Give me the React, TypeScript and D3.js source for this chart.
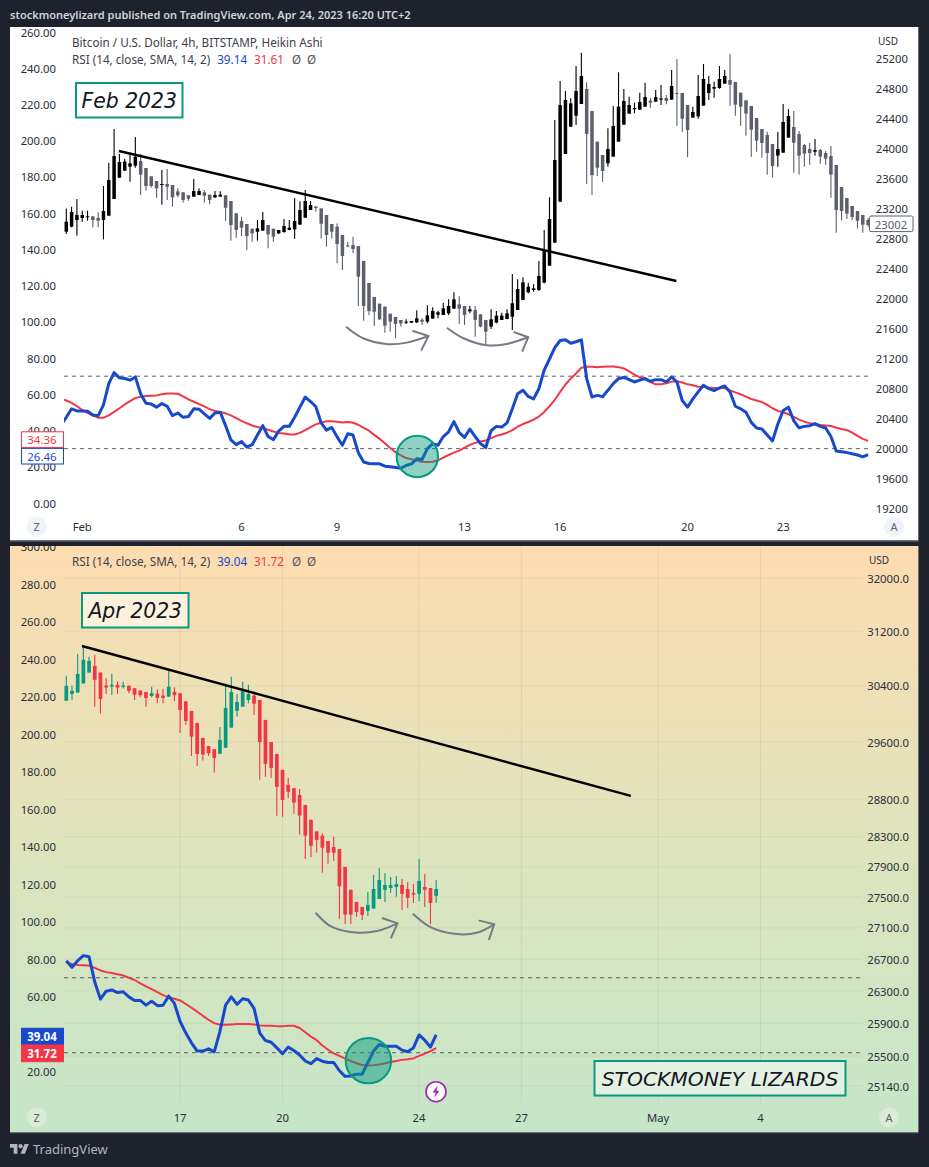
import React from 'react';
import * as d3 from 'd3';

// --- February panel (candle numbers run 1..152, 4h Heikin Ashi, values in USD) ---
const febOpen = [22884,22951,23040,23067,23080,23089,23067,23040,23098,23320,
  23604,23698,23751,23764,23827,23733,23622,23560,23511,23520,
  23507,23422,23409,23369,23351,23373,23409,23378,23342,23351,
  23369,23293,23129,23027,22987,22924,22884,22898,22973,22924,
  22862,22880,22907,22915,22978,23071,23173,23218,23195,23107,
  22987,22951,22840,22702,22707,22694,22494,22200,22014,21925,
  21885,21791,21747,21707,21671,21671,21676,21711,21685,21725,
  21778,21774,21796,21858,21916,21894,21822,21840,21782,21707,
  21618,21671,21707,21720,21751,21840,21974,22076,22107,22107,
  22205,22431,22738,23285,23920,24284,24431,24587,24787,24493,
  24085,23907,23796,23885,24085,24311,24458,24516,24511,24551,
  24631,24618,24645,24667,24645,24733,24733,24573,24405,24422,
  24565,24733,24791,24800,24858,24907,24880,24738,24636,24560,
  24400,24253,24173,24053,23898,23938,24138,24280,24187,24040,
  23987,23951,23973,23933,23893,23773,23480,23333,23227,23160,
  23107,23040];
const febClose = [23018,23147,23107,23107,23089,23040,23031,23160,23573,23893,
  23813,23818,23795,23884,23644,23493,23493,23462,23520,23484,
  23342,23369,23307,23324,23426,23426,23364,23307,23373,23378,
  23204,22973,22907,22938,22827,22862,22929,23040,22849,22818,
  22907,22960,22938,23027,23173,23293,23240,23200,22991,22840,
  22884,22720,22560,22694,22653,22285,21894,21827,21818,21716,
  21631,21685,21654,21662,21685,21694,21729,21685,21769,21827,
  21809,21862,21894,21982,21858,21774,21849,21707,21618,21551,
  21716,21765,21765,21796,21929,22120,22209,22151,22129,22294,
  22640,23053,23840,24573,24640,24596,24760,24960,24187,23640,
  23738,23693,23987,24293,24551,24627,24573,24533,24613,24680,
  24604,24680,24662,24627,24827,24724,24391,24240,24480,24693,
  24920,24853,24813,24920,24960,24844,24578,24551,24458,24245,
  24098,24067,23933,23760,23987,24347,24427,24071,23898,23924,
  23933,23973,23885,23858,23645,23173,23160,23125,23080,23031,
  22978,22973];
const febHigh = [23195,23218,23320,23164,23164,23089,23142,23493,23804,24253,
  23920,23858,23938,24147,23920,23733,23622,23560,23707,23720,
  23507,23462,23409,23369,23587,23462,23440,23378,23426,23422,
  23369,23293,23129,23084,22987,22924,23040,23147,22973,22924,
  22907,23053,23040,23329,23289,23440,23293,23227,23195,23107,
  22987,22995,22840,22751,22818,22694,22494,22200,22014,21925,
  21885,21791,21747,21707,21716,21694,21836,21729,21902,21876,
  21831,21938,21982,22076,22022,21894,21894,21894,21782,21707,
  21849,21827,21805,21849,22320,22249,22276,22205,22182,22494,
  22907,23342,24373,24893,24760,24662,25093,25271,24876,24493,
  24085,23907,24262,24560,25009,24787,24684,24604,24738,24871,
  24671,24773,24840,24707,25040,25187,24733,24573,24551,24973,
  25120,24960,24884,25093,25040,25253,24880,24738,24636,24560,
  24400,24253,24218,24053,24213,24587,24520,24493,24227,24053,
  24067,24120,23987,23960,24027,23773,23480,23333,23227,23160,
  23107,23062];
const febLow = [22853,22942,22831,23018,23031,22942,22942,22782,23098,23320,
  23604,23693,23551,23738,23373,23431,23475,23338,23244,23307,
  23218,23342,23275,23298,23351,23373,23275,23249,23333,23351,
  23031,22764,22804,22827,22640,22751,22764,22898,22662,22751,
  22853,22871,22907,22791,22978,23071,23173,23151,22795,22684,
  22795,22462,22373,22676,22596,21894,21698,21774,21627,21707,
  21538,21551,21462,21618,21654,21667,21667,21640,21662,21725,
  21729,21774,21774,21858,21654,21640,21796,21485,21609,21374,
  21587,21662,21707,21716,21574,21840,21974,22062,22085,22098,
  22196,22431,22738,23285,23920,24284,24307,24587,23520,23373,
  23627,23551,23751,23885,24085,24311,24458,24462,24507,24551,
  24538,24618,24573,24582,24645,24298,24218,23876,24405,24391,
  24565,24640,24671,24791,24858,24565,24431,24298,24165,23885,
  23951,23871,23645,23605,23751,23938,24138,23671,23645,23751,
  23778,23898,23791,23778,23338,22871,23036,23053,23040,22925,
  22871,22951];
// RSI and its SMA start one candle earlier (index 0), the pane clips that point
const febRsi = [43.0,47.3,52.0,50.8,50.8,50.7,48.6,48.2,54.2,65.9,72.0,69.1,68.7,67.8,69.6,60.3,
  55.1,54.6,52.9,54.9,53.4,48.2,49.7,47.3,47.7,52.0,51.8,49.2,46.7,49.7,50.1,42.7,
  34.8,32.2,33.9,30.8,32.2,37.5,42.7,36.7,35.0,39.7,42.3,42.3,47.3,52.9,58.5,56.0,
  53.1,44.2,40.2,41.7,36.5,31.9,38.2,37.5,27.8,22.6,21.8,21.6,21.6,20.3,20.0,19.6,
  19.2,20.7,21.6,24.4,24.0,30.0,32.8,31.9,36.7,39.3,44.9,38.9,
  36.2,40.8,36.7,32.8,30.6,39.9,42.3,41.9,44.2,52.0,60.3,62.2,58.8,57.5,63.1,73.4,
  79.5,85.8,89.7,90.1,88.2,89.0,90.1,68.7,58.5,59.4,58.7,62.2,65.9,68.7,69.3,68.1,
  66.8,67.8,68.7,67.2,68.1,68.1,66.8,69.6,66.8,56.6,52.9,57.5,61.3,65.0,63.1,62.0,
  63.5,64.6,61.3,53.4,52.0,50.1,44.5,41.4,40.8,37.5,34.3,43.6,51.0,52.9,45.4,41.5,
  42.3,42.7,43.8,42.3,41.4,36.7,28.7,28.3,27.8,27.2,26.5,25.5,26.7];
const febRsiMa = [57.5,56.6,55.3,53.4,51.4,49.7,48.2,47.1,47.1,48.4,50.3,52.3,54.4,56.2,57.9,58.7,
  59.0,59.2,59.4,60.0,60.5,60.5,60.3,58.8,57.2,55.9,54.6,53.3,51.8,50.8,50.3,49.5,
  48.4,46.9,45.3,44.0,42.8,41.9,41.4,40.4,39.5,38.7,38.4,37.8,37.8,38.7,40.2,41.9,
  43.4,44.3,45.1,45.1,44.9,44.5,44.7,44.3,43.2,41.5,39.9,37.6,35.4,33.0,30.4,28.1,
  26.3,24.8,24.1,23.5,22.8,22.6,22.8,23.5,25.0,26.5,27.8,28.9,
  30.6,32.1,33.2,33.9,34.5,35.8,37.1,37.8,38.8,40.2,42.1,43.6,44.7,46.0,47.7,50.3,
  53.4,57.0,61.3,65.4,68.7,71.5,74.7,75.2,75.2,75.0,75.2,75.4,75.4,75.0,74.3,72.6,
  70.9,69.4,68.3,66.8,65.5,65.5,66.1,67.0,67.2,66.5,65.5,65.0,64.2,64.1,63.7,63.5,
  63.5,63.3,62.2,61.1,60.0,58.7,57.4,56.6,55.7,54.2,52.3,50.8,50.1,49.0,47.5,46.0,
  44.9,44.1,43.6,43.0,42.8,42.5,41.5,40.8,40.2,38.9,37.1,35.4,34.3];
const febLeftTicks = [260,240,220,200,180,160,140,120,100,80,60,40,20,0];
const febPriceTicks = [25200,24800,24400,24000,23600,23200,22800,22400,22000,21600,21200,20800,20400,20000,19600,19200];
const febDayLabels = ['Feb','6','9','13','16','20','23'];
const febDayCandles = [4,34,52,76,94,118,136];
// annotations, as [candle number, USD]
const febTrend = [[10.9,23960],[115.9,22227]];
const febArcs = [
  [[53.8,21610],[56.9,21463],[61.3,21387],[65.1,21405],[69.2,21494]],
  [[72.8,21597],[75.8,21463],[80.2,21370],[83.9,21387],[88,21477]],
];
const febArrowHeads = [
  [[66.3,21561],[69.2,21494],[67.9,21308]],
  [[85.4,21543],[88,21477],[86.9,21294]],
];

// --- April panel (candle numbers run 1..66) ---
const aprOpen = [30189,30286,30305,30436,30595,30692,30595,30407,30393,30417,
  30388,30402,30368,30334,30315,30257,30291,30262,30247,30315,
  30296,30179,30042,29872,29659,29545,29502,29438,29521,29805,
  30042,30103,30199,30262,30199,29914,29602,29434,29213,29006,
  28960,28867,28731,28528,28371,28314,28242,28161,28134,27897,
  27595,27437,27372,27320,27350,27476,27595,27619,27632,27659,
  27606,27555,27542,27632,27619,27516];
const aprClose = [30402,30330,30576,30779,30765,30489,30214,30378,30417,30378,
  30407,30330,30276,30267,30228,30296,30228,30228,30388,30267,
  30056,29900,29678,29434,29425,29443,29379,29630,30085,30315,
  30170,30330,30286,30146,29602,29296,29241,28978,28798,28909,
  28762,28586,28314,28179,28258,28152,28085,28085,27641,27272,
  27272,27307,27268,27398,27606,27725,27659,27659,27672,27542,
  27490,27533,27712,27595,27424,27606];
const aprHigh = [30547,30402,30866,30982,30827,30852,30595,30513,30576,30465,
  30460,30412,30368,30344,30315,30388,30349,30359,30634,30383,
  30296,30179,30042,29872,29659,29545,29502,29815,30431,30533,
  30286,30460,30417,30320,30199,29914,29602,29434,29213,29103,
  28960,28947,28731,28528,28371,28346,28242,28301,28134,27897,
  27595,27437,27372,27569,27791,27883,27817,27764,27778,27738,
  27698,27672,28002,27804,27619,27725];
const aprLow = [30189,30199,30305,30436,30595,30103,30004,30286,30272,30286,
  30364,30296,30199,30238,30103,30238,30151,30151,30247,30179,
  29730,29843,29406,29268,29342,29406,29176,29438,29521,29805,
  29961,30103,30151,29985,29075,29116,29103,28582,28569,28826,
  28609,28325,28002,28025,28090,27821,27940,27976,27216,27150,
  27150,27242,27203,27255,27350,27476,27437,27555,27503,27333,
  27359,27424,27450,27372,27150,27424];
const aprRsi = [79.1,75.6,79.1,81.8,81.2,67.7,58.6,62.8,63.5,62.1,62.5,59.8,57.9,57.9,55.4,57.5,
  55.1,55.3,60.2,56.3,46.7,40.5,35.3,30.9,30.9,32.1,30.5,41.4,55.4,59.8,55.8,58.8,
  58.1,53.7,40.5,36.5,35.6,32.6,29.5,33.0,31.2,28.8,25.6,24.2,26.9,25.5,24.8,24.8,
  20.4,17.4,17.6,18.6,18.6,24.8,30.9,34.4,33.5,33.5,33.5,31.4,30.5,32.6,39.5,36.7,33.0,39.6];
const aprRsiMa = [78.1,77.4,76.8,76.7,76.5,75.3,73.9,73.0,72.5,71.9,71.2,70.0,68.8,67.0,65.4,63.9,
  62.3,60.7,59.5,58.8,57.9,56.0,54.0,51.9,49.7,47.6,45.8,44.9,44.9,45.1,45.3,45.4,
  45.3,45.1,44.6,44.4,44.4,44.2,44.2,44.4,44.4,43.2,40.9,38.6,36.7,33.9,31.6,29.7,
  28.3,26.9,25.6,24.4,23.5,23.2,23.4,23.7,24.4,25.1,25.6,26.2,26.5,27.0,28.3,29.5,30.9,32.5];
// 40.00 sits fully behind the two value boxes in this pane, so it is left out
const aprLeftTicks = [300,280,260,240,220,200,180,160,140,120,100,80,60,20];
const aprPriceTicks = [32000,31200,30400,29600,28800,28300,27900,27500,27100,26700,26300,25900,25500,25140];
const aprDayLabels = ['17','20','24','27','May','4'];
const aprDayCandles = [21,39,63,81,105,123];
const aprTrend = [[3.76,30983],[100.2,28853]];
const aprArcs = [
  [[44.9,27290],[47.6,27116],[52.3,27038],[55.8,27063],[59.2,27159]],
  [[62,27277],[65.2,27103],[69.6,27021],[73.1,27037],[76.2,27147]],
];
const aprArrowHeads = [
  [[56.6,27225],[59.2,27159],[58.1,26977]],
  [[73.6,27194],[76.2,27147],[75.3,26955]],
];

const rsiBands = [70, 30];

const W = 929;
const H = 1167;
const DARK = '#1e222d';
const BLUE = '#1848cc';
const RED = '#f23645';
const TEAL = '#089981';
const AXIS_TEXT = '#2a2e39';
const FONT = '"Noto Sans", sans-serif';
const NOTE_FONT = '"DejaVu Sans", sans-serif';

const feb = { top: 27, bottom: 540, left: 64, right: 869 };
const apr = { top: 546, bottom: 1132, left: 64, right: 862 };

const febX = d3.scaleLinear().domain([1, 152]).range([66.3, 868.1]);
const febPriceY = d3.scaleLinear().domain([25200, 19200]).range([58, 508]);
const febLeftY = d3.scaleLinear().domain([0, 260]).range([503, 32]);

const aprX = d3.scaleLinear().domain([1, 123]).range([66.3, 760.5]);
const aprPriceY = d3.scaleLog().domain([32000, 25140]).range([578, 1086]);
const aprLeftY = d3.scaleLinear().domain([0, 300]).range([1109, 546.5]);

function Candles({ opens, highs, lows, closes, x, y, up, down, width }: any) {
  return (
    <g>
      {opens.map((o: number, i: number) => {
        const c = closes[i];
        const cx = x(i + 1);
        const color = c >= o ? up : down;
        const top = y(Math.max(o, c));
        const bottom = y(Math.min(o, c));
        return (
          <g key={i}>
            <line x1={cx} x2={cx} y1={y(highs[i])} y2={y(lows[i])} stroke={color} strokeWidth={1.1} />
            <rect x={cx - width / 2} y={top} width={width} height={Math.max(bottom - top, 1)} fill={color} />
          </g>
        );
      })}
    </g>
  );
}

function RsiLines({ rsi, ma, x, y, start, clip }: any) {
  const line = d3.line<number>()
    .x((_, i) => x(i + start))
    .y(d => y(d));
  return (
    <g clipPath={clip}>
      <path d={line(ma) || ''} fill="none" stroke={RED} strokeWidth={2} strokeLinejoin="round" />
      <path d={line(rsi) || ''} fill="none" stroke={BLUE} strokeWidth={3} strokeLinejoin="round" />
    </g>
  );
}

function Note({ x, y, w, h, text, size, fill }: any) {
  return (
    <g>
      <rect x={x} y={y} width={w} height={h} fill={fill} stroke={TEAL} strokeWidth={2} />
      <text x={x + w / 2} y={y + h / 2 + 1} textAnchor="middle" dominantBaseline="central"
        fontFamily={NOTE_FONT} fontStyle="italic" fontSize={size} fill="#131722">{text}</text>
    </g>
  );
}

function Arrows({ arcs, heads, x, y }: any) {
  const arc = d3.line<number[]>().x(d => x(d[0])).y(d => y(d[1])).curve(d3.curveCatmullRom);
  const head = d3.line<number[]>().x(d => x(d[0])).y(d => y(d[1]));
  return (
    <g fill="none" stroke="#787b86" strokeWidth={2} strokeLinecap="round" strokeLinejoin="round">
      {arcs.map((a: number[][], i: number) => <path key={i} d={arc(a) || ''} />)}
      {heads.map((a: number[][], i: number) => <path key={i} d={head(a) || ''} />)}
    </g>
  );
}

function RoundButton({ cx, cy, label, fill }: any) {
  return (
    <g>
      <circle cx={cx} cy={cy} r={10} fill={fill} />
      <text x={cx} y={cy} textAnchor="middle" dominantBaseline="central" fontFamily={FONT} fontSize={11} fill="#5d606b">{label}</text>
    </g>
  );
}

function PriceBox({ y, h, label, color, filled }: any) {
  return (
    <g>
      <rect x={21.5} y={y} width={42} height={h} fill={filled ? color : '#ffffff'} stroke={color} strokeWidth={1} />
      <text x={42} y={y + h / 2} textAnchor="middle" dominantBaseline="central" fontFamily={FONT} fontSize={11.5}
        fontWeight={filled ? 700 : 400} fill={filled ? '#ffffff' : color}>{label}</text>
    </g>
  );
}

function Legend({ x, y, rsi, ma }: any) {
  return (
    <text x={x} y={y} dominantBaseline="central" fontFamily={FONT} fontSize={11.7} fill="#3d404a">
      RSI (14, close, SMA, 14, 2)
      <tspan dx={7} fill={BLUE}>{rsi}</tspan>
      <tspan dx={7} fill={RED}>{ma}</tspan>
      <tspan dx={8} fill="#50535e">Ø</tspan>
      <tspan dx={6} fill="#50535e">Ø</tspan>
    </text>
  );
}

export default function App() {
  const trendLine = (pts: number[][], x: any, y: any) =>
    d3.line<number[]>().x(d => x(d[0])).y(d => y(d[1]))(pts) || '';

  return (
    <svg width={W} height={H} viewBox={`0 0 ${W} ${H}`} style={{ position: 'absolute', left: 0, top: 0, display: 'block' }}>
      <defs>
        <linearGradient id="aprBg" x1="0" y1="0" x2="0" y2="1">
          <stop offset="0" stopColor="#fddcb0" />
          <stop offset="0.5" stopColor="#dfe4bd" />
          <stop offset="1" stopColor="#c5e6c8" />
        </linearGradient>
        <clipPath id="febPane"><rect x={10} y={feb.top} width={908} height={feb.bottom - feb.top} /></clipPath>
        <clipPath id="aprPane"><rect x={10} y={apr.top} width={908} height={apr.bottom - apr.top} /></clipPath>
        <clipPath id="febPlot"><rect x={feb.left} y={feb.top} width={feb.right - feb.left} height={feb.bottom - feb.top} /></clipPath>
        <clipPath id="aprPlot"><rect x={apr.left} y={apr.top} width={apr.right - apr.left} height={apr.bottom - apr.top} /></clipPath>
      </defs>

      <rect width={W} height={H} fill={DARK} />
      <text x={10} y={14.5} dominantBaseline="central" fontFamily={FONT} fontSize={11} fontWeight={600} fill="#d1d4dc">
        stockmoneylizard published on TradingView.com, Apr 24, 2023 16:20 UTC+2
      </text>

      {/* February pane */}
      <rect x={10} y={feb.top} width={908} height={feb.bottom - feb.top} fill="#ffffff" />
      <rect x={10} y={feb.bottom} width={908.5} height={1.6} fill="#6b6e78" />
      <rect x={918} y={feb.top} width={1} height={feb.bottom - feb.top} fill="#6b6e78" />
      <g clipPath="url(#febPane)">
        {febLeftTicks.map(t => (
          <text key={t} x={56} y={febLeftY(t)} textAnchor="end" dominantBaseline="central" fontFamily={FONT} fontSize={11.3} fill={AXIS_TEXT}>{t.toFixed(2)}</text>
        ))}
      </g>
      {febPriceTicks.map(t => (
        <text key={t} x={908} y={febPriceY(t)} textAnchor="end" dominantBaseline="central" fontFamily={FONT} fontSize={11.3} fill={AXIS_TEXT}>{t}</text>
      ))}
      <text x={898} y={41} textAnchor="end" dominantBaseline="central" fontFamily={FONT} fontSize={10} fill={AXIS_TEXT}>USD</text>
      {febDayLabels.map((d, i) => (
        <text key={d} x={febX(febDayCandles[i])} y={526.7} textAnchor="middle" dominantBaseline="central" fontFamily={FONT} fontSize={11.3} fill={AXIS_TEXT}>{d}</text>
      ))}
      <text x={72} y={42} dominantBaseline="central" fontFamily={FONT} fontSize={11.7} fill="#3d404a">Bitcoin / U.S. Dollar, 4h, BITSTAMP, Heikin Ashi</text>
      <Legend x={72} y={59} rsi="39.14" ma="31.61" />

      {rsiBands.map(b => (
        <line key={b} x1={feb.left} x2={feb.right} y1={febLeftY(b)} y2={febLeftY(b)} stroke="#5d606b" strokeWidth={1} strokeDasharray="4 4" />
      ))}
      <Candles opens={febOpen} highs={febHigh} lows={febLow} closes={febClose} x={febX} y={febPriceY} up="#000000" down="#5d606b" width={3.5} />
      <RsiLines rsi={febRsi} ma={febRsiMa} x={febX} y={febLeftY} start={0} clip="url(#febPlot)" />
      <path d={trendLine(febTrend, febX, febPriceY)} fill="none" stroke="#000000" strokeWidth={2.4} />
      <Arrows arcs={febArcs} heads={febArrowHeads} x={febX} y={febPriceY} />
      <circle cx={febX(67.1)} cy={febLeftY(25.7)} r={20.7} fill={TEAL} fillOpacity={0.45} stroke={TEAL} strokeWidth={2} />
      <Note x={76} y={83} w={106.5} h={34.5} text="Feb 2023" size={20.4} fill="#ffffff" />
      <PriceBox y={431.8} h={15.6} label="34.36" color={RED} />
      <PriceBox y={448.4} h={15.6} label="26.46" color={BLUE} />
      <rect x={869.5} y={216} width={43.5} height={15.6} rx={1.5} fill="#ffffff" stroke="#5d606b" strokeWidth={1} />
      <text x={891} y={224} textAnchor="middle" dominantBaseline="central" fontFamily={FONT} fontSize={11.3} fill="#5d606b">23002</text>
      <RoundButton cx={36.7} cy={526.7} label="Z" fill="#f0f3fa" />
      <RoundButton cx={894} cy={526.7} label="A" fill="#f0f3fa" />

      {/* April pane */}
      <rect x={10} y={apr.top} width={908} height={apr.bottom - apr.top} fill="url(#aprBg)" />
      <rect x={10} y={apr.bottom} width={908.5} height={1.2} fill="#6b6e78" />
      <rect x={918} y={apr.top} width={1} height={apr.bottom - apr.top} fill="#6b6e78" />
      {aprPriceTicks.map(t => (
        <line key={t} x1={apr.left} x2={apr.right} y1={aprPriceY(t)} y2={aprPriceY(t)} stroke="#000000" strokeOpacity={0.05} />
      ))}
      {aprDayCandles.map(c => (
        <line key={c} x1={aprX(c)} x2={aprX(c)} y1={apr.top} y2={1103} stroke="#000000" strokeOpacity={0.05} />
      ))}
      <g clipPath="url(#aprPane)">
        {aprLeftTicks.map(t => (
          <text key={t} x={56} y={aprLeftY(t)} textAnchor="end" dominantBaseline="central" fontFamily={FONT} fontSize={11.3} fill={AXIS_TEXT}>{t.toFixed(2)}</text>
        ))}
      </g>
      {aprPriceTicks.map(t => (
        <text key={t} x={909} y={aprPriceY(t)} textAnchor="end" dominantBaseline="central" fontFamily={FONT} fontSize={11.3} fill={AXIS_TEXT}>{t.toFixed(1)}</text>
      ))}
      <text x={889} y={560} textAnchor="end" dominantBaseline="central" fontFamily={FONT} fontSize={10} fill={AXIS_TEXT}>USD</text>
      {aprDayLabels.map((d, i) => (
        <text key={d} x={aprX(aprDayCandles[i])} y={1117.5} textAnchor="middle" dominantBaseline="central" fontFamily={FONT} fontSize={11.3} fill={AXIS_TEXT}>{d}</text>
      ))}
      <Legend x={72} y={561} rsi="39.04" ma="31.72" />

      {rsiBands.map(b => (
        <line key={b} x1={apr.left} x2={apr.right} y1={aprLeftY(b)} y2={aprLeftY(b)} stroke="#5d606b" strokeWidth={1} strokeDasharray="4 4" />
      ))}
      <Candles opens={aprOpen} highs={aprHigh} lows={aprLow} closes={aprClose} x={aprX} y={aprPriceY} up={TEAL} down={RED} width={3.7} />
      <RsiLines rsi={aprRsi} ma={aprRsiMa} x={aprX} y={aprLeftY} start={1} clip="url(#aprPlot)" />
      <path d={trendLine(aprTrend, aprX, aprPriceY)} fill="none" stroke="#000000" strokeWidth={2.4} />
      <Arrows arcs={aprArcs} heads={aprArrowHeads} x={aprX} y={aprPriceY} />
      <circle cx={aprX(54.1)} cy={aprLeftY(25.8)} r={22.7} fill={TEAL} fillOpacity={0.5} stroke={TEAL} strokeWidth={2} />
      <Note x={82} y={593} w={106.5} h={34.5} text="Apr 2023" size={20.4} fill="#fbf1dc" />
      <Note x={594.5} y={1061} w={251} h={34.5} text="STOCKMONEY LIZARDS" size={20.3} fill="#e4f1e2" />
      <PriceBox y={1028.3} h={16.7} label="39.04" color={BLUE} filled />
      <PriceBox y={1045} h={16.7} label="31.72" color={RED} filled />
      <RoundButton cx={36.7} cy={1117.5} label="Z" fill="#dcebd8" />
      <RoundButton cx={889} cy={1117.5} label="A" fill="#dcebd8" />
      <g>
        <circle cx={436} cy={1091.7} r={10} fill="#ffffff" stroke="#9c27b0" strokeWidth={1.6} />
        <path d="M437.8 1085.6 L432.6 1092.4 L435.6 1092.4 L434.2 1097.8 L439.4 1090.8 L436.4 1090.8 Z" fill="#9c27b0" />
      </g>

      {/* footer */}
      <g transform="translate(10,1142) scale(0.53)" fill="#b2b5be">
        <path d="M14 22H7V11H0V4h14v18zM28 22h-8l7.5-18h8L28 22z" />
        <circle cx={20} cy={8} r={4} />
      </g>
      <text x={33} y={1149} dominantBaseline="central" fontFamily={FONT} fontSize={13} fill="#b2b5be">TradingView</text>
    </svg>
  );
}
